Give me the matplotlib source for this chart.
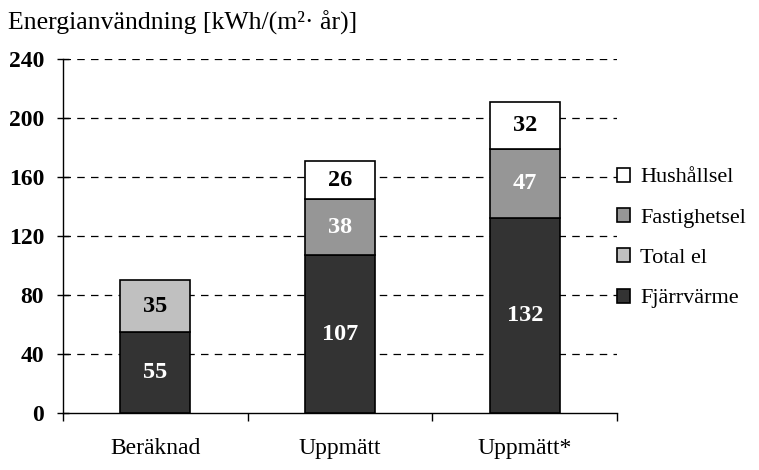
import matplotlib
matplotlib.use("Agg")
import matplotlib.pyplot as plt
import numpy as np

categories = ["Beräknad", "Uppmätt", "Uppmätt*"]
fjarrvarme = [55, 107, 132]
total_el = [35, 0, 0]
fastighetsel = [0, 38, 47]
hushallsel = [0, 26, 32]
yticks = [0, 40, 80, 120, 160, 200, 240]

plt.rcParams['font.family'] = ['Liberation Serif', 'DejaVu Serif']

fig = plt.figure(figsize=(7.59, 4.70), dpi=100)
ax = fig.add_axes([0.083, 0.121, 0.730, 0.753])

x = np.arange(len(categories))
w = 0.38
series = [
    ("Fjärrvärme", fjarrvarme, "#333333", "white"),
    ("Total el", total_el, "#c0c0c0", "black"),
    ("Fastighetsel", fastighetsel, "#969696", "white"),
    ("Hushållsel", hushallsel, "#ffffff", "black"),
]
bottom = np.zeros(len(categories))
handles = []
for name, vals, col, tcol in series:
    vals = np.array(vals, dtype=float)
    mask = vals > 0
    b = ax.bar(x[mask], vals[mask], w, bottom=bottom[mask], color=col,
               edgecolor="black", linewidth=1.2, label=name, zorder=3)
    handles.append(b)
    for xi, v, bo in zip(x[mask], vals[mask], bottom[mask]):
        ax.text(xi, bo + v / 2, f"{int(v)}", ha="center", va="center",
                color=tcol, fontsize=17.5, fontweight="bold", zorder=4)
    bottom = bottom + vals

ax.set_ylim(0, 240)
ax.set_xlim(-0.5, 2.5)
ax.set_yticks(yticks)
ax.set_yticklabels([str(t) for t in yticks], fontsize=17, fontweight="bold")
ax.tick_params(axis="y", direction="inout", length=9, width=1, pad=9)
ax.set_xticks([-0.5, 0.5, 1.5, 2.5])
ax.set_xticklabels([])
ax.tick_params(axis="x", direction="out", length=6, width=1)
ax.set_xticks(x, minor=True)
ax.set_xticklabels(categories, minor=True, fontsize=17)
ax.tick_params(axis="x", which="minor", length=0, pad=18)

for t in yticks[1:]:
    ax.axhline(t, color="black", linestyle=(0, (6, 5)), linewidth=0.9, zorder=1)

ax.spines["top"].set_visible(False)
ax.spines["right"].set_visible(False)
ax.spines["left"].set_linewidth(1)
ax.spines["bottom"].set_linewidth(1)

leg = ax.legend(handles[::-1], [s[0] for s in series][::-1],
                loc="center left", bbox_to_anchor=(1.0, 0.495),
                frameon=False, fontsize=16, handlelength=0.6, handleheight=0.6,
                handletextpad=0.45, labelspacing=0.92, borderaxespad=0,
                borderpad=0)

fig.text(0.011, 0.952, "Energianvändning [kWh/(m²· år)]", fontsize=18.5,
         ha="left", va="center")

fig.savefig("out.png", dpi=100)
